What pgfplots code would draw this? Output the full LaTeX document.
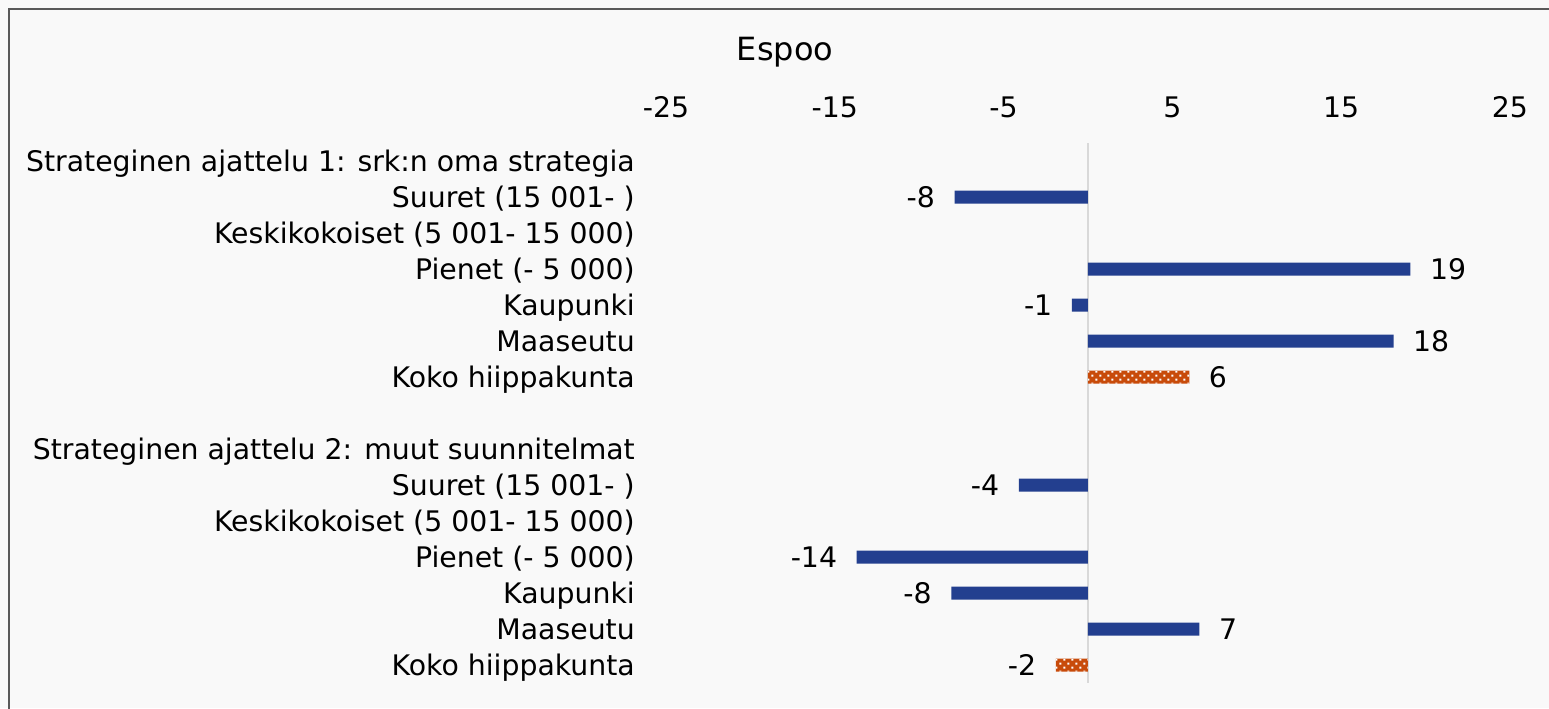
\documentclass[border=0pt]{standalone}
\usepackage{pgfplots}
\pgfplotsset{compat=1.18}
\usepackage{fontspec}
\setmainfont{DejaVu Sans}
\usetikzlibrary{patterns.meta}
\definecolor{barblue}{HTML}{233F8F}
\definecolor{barorange}{HTML}{C84B0A}
\definecolor{bg}{HTML}{F9F9F9}
\tikzdeclarepattern{name=mydots, type=uncolored,
  bounding box={(0,0) and (0.8mm,0.8mm)}, tile size={(0.8mm,0.8mm)},
  code={\fill (0.05mm,0.05mm) rectangle (0.25mm,0.25mm);
        \fill (0.45mm,0.45mm) rectangle (0.65mm,0.65mm);}}
\newcommand{\lblfont}{\fontsize{8.06pt}{9.5pt}\selectfont}
\newcommand{\barlbl}{\pgfmathprintnumber[fixed,precision=0,assume math mode=true]{\pgfplotspointmeta}}
\begin{document}
\begin{tikzpicture}[x=0.1mm,y=0.1mm]
\fill[bg] (0,0) rectangle (1549,-708);
\useasboundingbox (0,0) rectangle (1549,-708);
\draw[color=black!65, line width=0.2mm] (9,-730) -- (9,-9) -- (1570,-9);
\node[font=\fontsize{9.1pt}{11pt}\selectfont, inner sep=0pt] at (785,-52) {Espoo};
\begin{axis}[
  at={(66.6mm,-68.3mm)}, anchor=south west,
  scale only axis, width=84.4mm, height=54mm,
  xmin=-25, xmax=25, ymin=-0.5, ymax=14.5, y dir=reverse,
  axis line style={draw=none}, major tick length=0pt,
  xtick={-25,-15,-5,5,15,25}, xticklabels={-25,-15,-5,5,15,25},
  xticklabel pos=upper,
  xticklabel style={anchor=center, yshift=3.6mm},
  ytick={0,...,14},
  yticklabels={Strateginen ajattelu 1: srk:n oma strategia,
    Suuret (15 001- ), Keskikokoiset (5 001- 15 000), Pienet (- 5 000),
    Kaupunki, Maaseutu, Koko hiippakunta, {},
    Strateginen ajattelu 2: muut suunnitelmat,
    Suuret (15 001- ), Keskikokoiset (5 001- 15 000), Pienet (- 5 000),
    Kaupunki, Maaseutu, Koko hiippakunta},
  yticklabel style={anchor=base east, inner sep=0pt, xshift=-3.05mm, yshift=-1.0mm},
  tick label style={font=\lblfont, text=black},
  clip=false,
  point meta=x,
  nodes near coords align=horizontal,
  nodes near coords style={font=\lblfont, text=black, inner xsep=1.9mm, inner ysep=0pt},
]
\draw[color=black!15, line width=0.2mm] (axis cs:0,-0.5) -- (axis cs:0,14.5);
\addplot[xbar, bar width=1.3mm, bar shift=0pt, fill=barblue, draw=none,
  nodes near coords={\barlbl}] coordinates {
  (-7.9,1)
  (19.1,3)
  (-0.95,4)
  (18.1,5)
  (-4.1,9)
  (-13.7,11)
  (-8.1,12)
  (6.6,13)
};
\addplot[xbar, bar width=1.3mm, bar shift=0pt, fill=barorange, draw=none,
  nodes near coords={\barlbl}] coordinates {
  (6.0,6)
  (-1.9,14)
};
\addplot[xbar, bar width=1.3mm, bar shift=0pt, draw=none,
  pattern=mydots, pattern color=white] coordinates {
  (6.0,6)
  (-1.9,14)
};
\end{axis}
\end{tikzpicture}
\end{document}
